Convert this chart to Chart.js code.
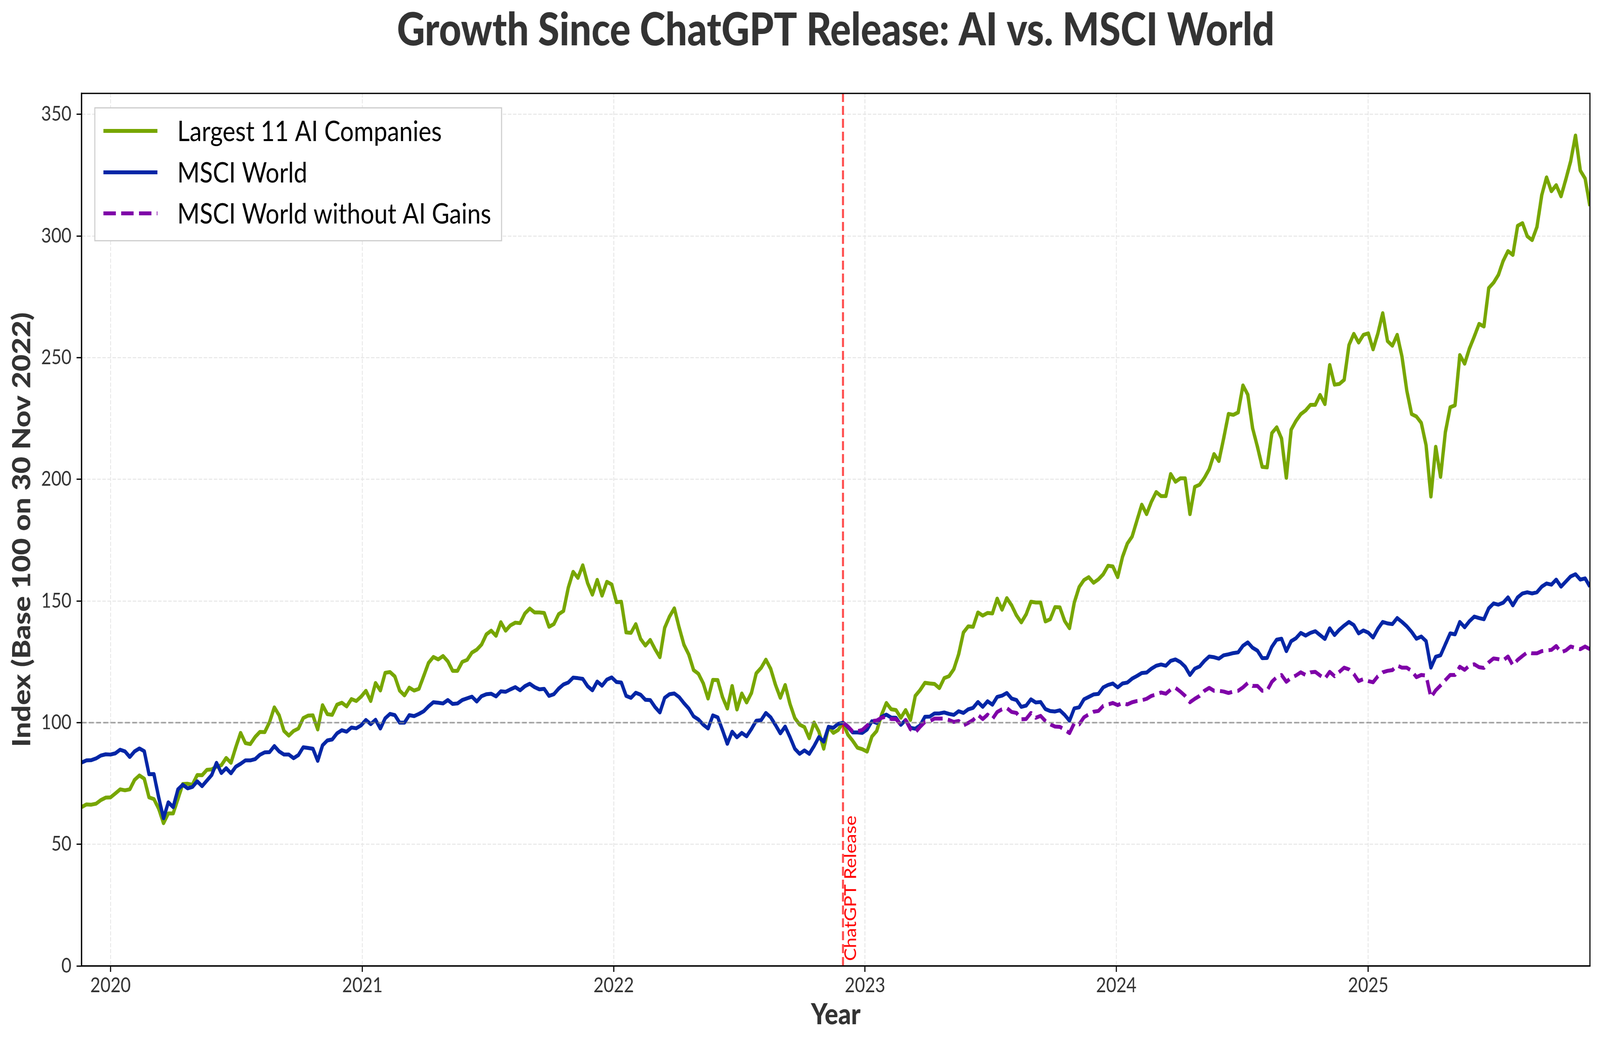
<!DOCTYPE html>
<html><head><meta charset="utf-8">
<script src="https://cdn.jsdelivr.net/npm/chart.js@4.4.1/dist/chart.umd.min.js"></script>
<style>html,body{margin:0;padding:0;background:#fff;overflow:hidden;width:100%;height:100%}canvas{display:block}</style>
</head><body>
<canvas id="c" width="4766" height="2669"></canvas>
<script>
// ---------------- data ----------------
const chartTitle = 'Growth Since ChatGPT Release: AI vs. MSCI World';
const seriesLabels = ['Largest 11 AI Companies', 'MSCI World', 'MSCI World without AI Gains'];
const xAxisTitle = 'Year';
const yAxisTitle = 'Index (Base 100 on 30 Nov 2022)';
const releaseLabel = 'ChatGPT Release';
const firstWeek = '2019-11-20';      // weekly observations from this date
const releaseDate = '2022-11-30';    // base date (index = 100)
const baseLevel = 100;
const xTickYears = [2020, 2021, 2022, 2023, 2024, 2025];
const yTickValues = [0, 50, 100, 150, 200, 250, 300, 350];

const aiCompanies = [
65.3,66.4,66.3,66.7,68.2,69.2,69.3,70.9,72.6,72.2,
72.6,76.5,78.3,77.0,69.3,68.6,64.7,58.7,62.7,62.7,
68.7,74.8,74.9,74.5,78.5,78.4,80.6,80.8,81.9,82.5,
85.5,83.5,89.9,95.8,91.6,91.2,94.1,96.2,96.1,100.2,
106.3,103.0,96.6,94.7,96.6,97.6,101.9,102.9,103.0,97.2,
107.2,103.5,103.2,107.4,108.2,106.7,109.7,108.9,110.7,113.1,
108.9,116.3,113.2,120.5,120.8,119.0,113.2,111.2,114.4,113.2,
113.9,119.2,124.6,127.0,126.0,127.4,125.2,121.3,121.3,125.0,
125.8,128.8,130.0,132.1,136.3,137.8,135.7,141.3,137.8,140.0,
141.1,140.9,144.9,146.9,145.3,145.3,145.1,139.4,140.5,144.6,
145.9,155.5,162.0,159.5,164.7,157.4,152.6,158.7,152.2,157.9,
156.8,149.5,149.7,137.1,136.9,140.5,134.4,131.7,134.0,130.2,
126.9,139.0,143.6,147.0,139.1,132.0,128.0,121.6,120.1,116.2,
109.9,117.6,117.5,110.5,105.8,115.1,105.4,112.0,108.3,112.2,
120.3,122.5,125.9,122.1,115.5,110.2,115.5,107.7,101.9,99.2,
98.2,93.6,100.1,96.3,89.3,98.3,95.8,97.0,100.0,95.1,
92.6,89.7,89.1,88.1,94.3,96.6,103.2,108.1,105.5,105.2,
102.0,105.2,101.1,111.0,113.4,116.4,116.1,115.9,114.2,118.3,
119.1,122.0,128.1,137.1,139.6,139.4,145.3,144.0,145.1,144.9,
151.0,146.4,151.2,148.2,144.1,141.2,144.5,149.7,149.4,149.4,
141.6,142.5,147.5,147.4,141.8,138.8,149.4,155.7,158.6,159.8,
157.5,158.9,161.0,164.5,164.2,159.8,168.1,173.6,176.5,183.1,
189.6,185.7,190.8,194.8,193.1,193.1,202.2,199.0,200.4,200.4,
185.7,196.9,197.8,200.6,204.2,210.4,207.5,216.9,226.9,226.5,
227.5,238.6,234.8,221.0,213.4,205.1,204.9,219.0,221.4,216.8,
200.6,220.4,224.0,226.8,228.3,230.6,230.6,234.7,230.9,247.0,
238.9,239.2,240.9,255.2,259.8,256.2,259.4,260.0,253.4,260.0,
268.3,256.8,254.9,259.4,250.4,236.4,226.8,225.8,223.2,214.0,
192.9,213.4,201.0,219.4,229.6,230.4,251.1,247.5,253.8,258.7,
263.9,262.8,278.6,280.8,284.0,289.8,293.8,292.2,304.2,305.3,
299.9,298.3,303.7,316.8,324.1,318.4,320.9,316.3,323.3,330.7,
341.3,326.9,323.6,312.3
];

const msciWorld = [
83.6,84.5,84.6,85.3,86.5,87.0,86.9,87.4,88.9,88.2,
85.9,88.2,89.4,88.3,78.8,78.9,69.3,60.7,67.3,65.3,
72.6,74.5,73.0,73.6,75.9,73.9,76.2,78.5,83.5,79.3,
81.3,79.2,81.9,83.1,84.5,84.5,85.0,86.8,87.8,87.9,
90.4,88.2,86.9,86.9,85.4,86.7,89.9,89.6,89.3,84.3,
90.7,92.7,93.1,95.6,96.9,96.3,98.0,97.7,98.9,101.1,
99.4,101.2,97.6,101.8,103.6,103.1,100.0,100.0,103.1,102.7,
103.6,104.7,106.7,108.4,108.2,107.9,109.3,107.7,107.9,109.3,
110.0,110.7,108.7,110.9,111.7,111.9,110.8,112.9,112.7,113.7,
114.6,113.3,115.0,116.0,114.6,113.7,113.9,111.0,111.7,114.0,
115.7,116.5,118.5,118.3,118.0,115.0,113.3,116.9,115.2,117.7,
118.6,116.7,116.5,111.0,110.2,112.3,111.5,109.4,109.3,106.4,
104.2,110.2,111.7,112.0,110.5,108.0,105.8,102.6,101.3,99.2,
97.6,103.0,102.2,96.9,91.3,96.3,94.0,95.8,94.4,97.4,
100.8,101.0,104.0,102.2,99.0,95.6,98.4,94.1,89.3,87.2,
88.6,87.2,90.4,94.1,92.2,98.3,97.9,99.5,100.0,98.3,
96.0,96.0,95.8,97.2,100.6,99.9,102.4,103.3,102.1,102.0,
99.1,101.1,97.9,97.5,98.9,102.4,102.5,103.8,103.8,104.2,
103.6,103.2,104.7,104.0,105.5,106.1,108.5,106.5,108.8,107.4,
110.6,111.1,112.2,109.9,109.3,106.5,107.0,109.6,108.3,108.5,
105.6,104.8,104.6,105.1,103.2,100.8,105.9,106.3,109.6,110.6,
111.6,111.8,114.5,115.5,116.1,114.5,116.1,116.5,118.1,119.2,
120.4,120.6,122.2,123.4,123.9,123.4,125.4,126.0,124.9,123.0,
119.6,122.2,123.1,125.4,127.2,126.9,126.3,127.7,128.1,128.6,
128.9,131.6,133.0,130.8,129.6,126.5,126.6,131.2,134.1,134.5,
129.4,133.5,134.7,136.9,135.8,136.9,137.6,136.0,134.4,138.8,
136.0,138.2,139.9,141.4,140.1,136.7,137.9,137.0,135.0,138.6,
141.4,140.8,140.5,143.0,141.4,139.6,137.3,134.5,135.4,133.5,
122.6,127.1,127.7,132.2,136.7,136.3,141.4,139.2,141.7,143.6,
143.0,142.5,147.0,149.0,148.5,149.3,151.5,148.2,151.5,153.1,
153.6,153.1,153.6,155.9,157.2,156.7,158.8,155.9,158.0,160.1,
161.0,158.8,159.3,155.9
];

// starts at releaseDate
const msciWorldExAI = [
100.0,98.5,96.4,96.5,97.0,98.8,100.7,
100.9,102.0,102.5,101.5,101.5,99.1,101.1,97.3,96.0,98.3,
100.3,100.6,101.7,101.7,101.7,101.1,100.3,100.7,98.9,99.9,
101.1,103.2,101.5,103.3,101.5,104.4,105.5,106.0,104.4,104.0,
101.4,101.5,104.0,102.0,102.8,100.7,99.3,98.4,98.3,97.1,
95.7,99.8,
99.3,102.2,103.4,104.5,104.8,106.9,107.5,108.1,107.2,108.1,
107.5,108.4,108.9,109.2,109.8,111.0,111.6,112.4,111.9,113.6,
114.3,112.8,111.0,108.4,109.8,111.0,113.1,114.3,113.1,113.1,
112.8,112.2,112.8,113.1,114.5,116.3,115.1,115.1,113.1,113.2,
116.8,
118.7,119.6,116.8,118.4,119.4,120.7,119.6,120.7,120.9,119.4,
118.1,120.9,119.1,120.9,122.6,121.9,120.0,117.1,117.9,117.1,
116.6,119.1,120.7,121.3,121.6,123.5,122.6,122.6,121.3,118.7,
119.6,119.4,110.4,113.3,115.3,117.5,119.6,119.6,123.0,121.7,
123.5,
124.0,122.8,122.5,124.8,126.4,126.1,125.6,127.2,123.6,125.8,
127.4,128.9,128.5,128.5,129.4,129.7,129.9,131.5,128.9,129.7,
131.3,130.7,130.2,131.3,130.2
];

// ---------------- helpers ----------------
const dayNum = s => Date.parse(s + 'T00:00:00Z') / 864e5;
const day0 = dayNum(firstWeek);
const weekDays = aiCompanies.map((_, i) => day0 + 7 * i);
const relDay = dayNum(releaseDate);
const relIdx = Math.round((relDay - day0) / 7);
const toPts = (vals, off) => vals.map((v, i) => ({x: weekDays[i + off], y: v}));

const FONT = 'Lato, "Open Sans", "DejaVu Sans", sans-serif';
const Y_MAX = 358.6;
const COLORS = {ai: '#77a600', msci: '#0326a6', ex: '#7f00a8'};

// the 4766x2669 drawing is displayed over the whole viewport
const cv = document.getElementById('c');
cv.style.width = (window.innerWidth || 4766) + 'px';
cv.style.height = (window.innerHeight || 2669) + 'px';

function draw() {
  const decor = {
    id: 'decor',
    afterDraw(chart) {
      const {ctx, chartArea: a, scales: {x, y}} = chart;
      // spines
      ctx.save();
      ctx.strokeStyle = '#000'; ctx.lineWidth = 3.3;
      ctx.strokeRect(a.left, a.top, a.right - a.left, a.bottom - a.top);
      ctx.restore();

      // release label (rotated)
      ctx.save();
      ctx.translate(x.getPixelForValue(relDay) + 39, y.getPixelForValue(0) - 13);
      ctx.rotate(-Math.PI / 2);
      ctx.font = '400 49px ' + FONT;
      ctx.fillStyle = '#ff0000';
      ctx.textAlign = 'left'; ctx.textBaseline = 'alphabetic';
      ctx.fillText(releaseLabel, 0, 0);
      ctx.restore();

      // title
      ctx.save();
      ctx.font = '900 117px ' + FONT;
      ctx.fillStyle = '#333333';
      ctx.textAlign = 'center'; ctx.textBaseline = 'alphabetic';
      const w = ctx.measureText(chartTitle).width;
      const sx = Math.max(0.8, Math.min(1.1, 2614 / w));
      ctx.translate((a.left + a.right) / 2, 116);
      ctx.scale(sx, 1);
      ctx.fillText(chartTitle, 0, 0);
      ctx.restore();

      // legend
      ctx.save();
      ctx.font = '400 72px ' + FONT;
      const ds = chart.data.datasets.slice(0, 3);
      const tw = Math.max(...ds.map(d => ctx.measureText(d.label).width));
      const L = {left: a.left + 39.5, top: a.top + 37, padL: 25.5, handle: 161, gap: 59, padR: 31, h: 340, rows: [59, 165, 270]};
      const bw = L.padL + L.handle + L.gap + tw + L.padR;
      ctx.fillStyle = '#ffffff';
      ctx.fillRect(L.left, L.top, bw, L.h);
      ctx.strokeStyle = '#cccccc'; ctx.lineWidth = 3;
      ctx.strokeRect(L.left, L.top, bw, L.h);
      ds.forEach((d, i) => {
        const ry = L.top + L.rows[i];
        ctx.save();
        ctx.strokeStyle = d.borderColor; ctx.lineWidth = d.borderWidth;
        ctx.setLineDash(d.borderDash || []);
        ctx.lineCap = 'butt';
        ctx.beginPath();
        ctx.moveTo(L.left + L.padL, ry);
        ctx.lineTo(L.left + L.padL + L.handle, ry);
        ctx.stroke();
        ctx.restore();
        ctx.fillStyle = '#000';
        ctx.textAlign = 'left'; ctx.textBaseline = 'alphabetic';
        ctx.fillText(d.label, L.left + L.padL + L.handle + L.gap, ry + 26);
      });
      ctx.restore();
    }
  };

  const tickFont = {family: FONT, size: 52, weight: '400'};
  const axTitleFont = {family: FONT, size: 75, weight: '900'};

  new Chart(cv, {
    type: 'line',
    data: {
      datasets: [
        {label: seriesLabels[0], data: toPts(aiCompanies, 0), borderColor: COLORS.ai, borderWidth: 10, order: 5},
        {label: seriesLabels[1], data: toPts(msciWorld, 0), borderColor: COLORS.msci, borderWidth: 10, order: 4},
        {label: seriesLabels[2], data: toPts(msciWorldExAI, relIdx), borderColor: COLORS.ex, borderWidth: 10, borderDash: [37, 16], order: 3},
        {label: releaseLabel, data: [{x: relDay, y: 0}, {x: relDay, y: Y_MAX}], borderColor: 'rgba(255,0,0,0.7)', borderWidth: 6, borderDash: [23, 10], order: 2},
        {label: 'base', data: [{x: weekDays[0], y: baseLevel}, {x: weekDays[weekDays.length - 1], y: baseLevel}], borderColor: 'rgba(128,128,128,0.7)', borderWidth: 4, borderDash: [15, 6.5], order: 1}
      ]
    },
    options: {
      responsive: false, animation: false, devicePixelRatio: 1,
      parsing: false, normalized: true,
      layout: {padding: {top: 239, right: 30, bottom: 0, left: 0}},
      plugins: {legend: {display: false}, title: {display: false}, tooltip: {enabled: false}},
      elements: {point: {radius: 0}, line: {tension: 0, borderJoinStyle: 'round', borderCapStyle: 'butt', fill: false}},
      datasets: {line: {clip: 0}},
      scales: {
        x: {
          type: 'linear', min: weekDays[0], max: weekDays[weekDays.length - 1],
          afterBuildTicks: s => { s.ticks = xTickYears.map(yr => ({value: dayNum(yr + '-01-01')})); },
          afterFit: s => { s.height = 197; },
          ticks: {callback: v => String(new Date(v * 864e5).getUTCFullYear()), font: tickFont, color: '#333333', padding: 4, maxRotation: 0, autoSkip: false},
          grid: {color: '#e6e6e6', lineWidth: 2.5, tickLength: 15, tickColor: '#000', tickWidth: 3.3},
          border: {display: true, color: '#000', width: 3.3, dash: [10.5, 4.6]},
          title: {display: true, text: xAxisTitle, font: axTitleFont, color: '#333333', padding: {top: 0, bottom: 27}}
        },
        y: {
          type: 'linear', min: 0, max: Y_MAX,
          afterBuildTicks: s => { s.ticks = yTickValues.map(v => ({value: v})); },
          afterFit: s => { s.width = 243; },
          ticks: {font: tickFont, color: '#333333', padding: 15, autoSkip: false},
          grid: {color: '#e6e6e6', lineWidth: 2.5, tickLength: 15, tickColor: '#000', tickWidth: 3.3},
          border: {display: true, color: '#000', width: 3.3, dash: [10.5, 4.6]},
          title: {display: true, text: yAxisTitle, font: axTitleFont, color: '#333333', padding: {top: 21, bottom: 0}}
        }
      }
    },
    plugins: [decor]
  });
}

const loads = ['400 72px Lato', '700 72px Lato', '900 75px Lato', '900 117px Lato'].map(f => document.fonts.load(f).catch(() => null));
Promise.race([Promise.all(loads), new Promise(r => setTimeout(r, 1500))]).then(draw);
</script>
</body></html>
